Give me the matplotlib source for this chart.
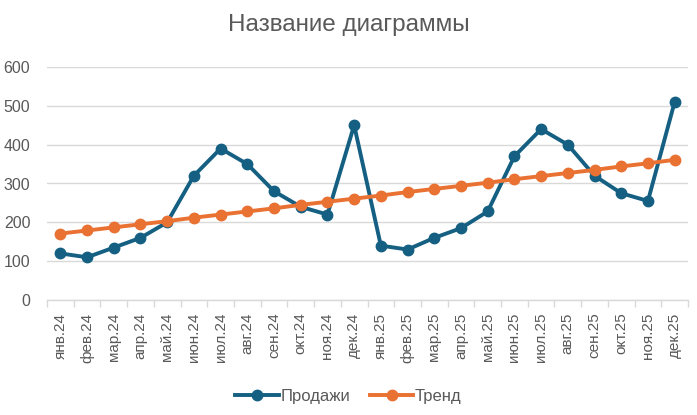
import numpy as np
import matplotlib.pyplot as plt

plt.rcParams['font.family'] = ['Liberation Sans', 'DejaVu Sans']

months = ['янв.24', 'фев.24', 'мар.24', 'апр.24', 'май.24', 'июн.24',
          'июл.24', 'авг.24', 'сен.24', 'окт.24', 'ноя.24', 'дек.24',
          'янв.25', 'фев.25', 'мар.25', 'апр.25', 'май.25', 'июн.25',
          'июл.25', 'авг.25', 'сен.25', 'окт.25', 'ноя.25', 'дек.25']
sales = [120, 110, 135, 160, 200, 320, 390, 350, 280, 240, 220, 450,
         140, 130, 160, 185, 228, 370, 440, 400, 320, 275, 255, 510]
trend = [171, 179, 187, 195, 203, 212, 220, 228, 236, 245, 253, 261,
         269, 278, 286, 294, 302, 311, 319, 327, 335, 344, 352, 361]

TEXT = '#595959'
GRID = '#D9D9D9'

fig = plt.figure(figsize=(6.97, 4.15), dpi=100)
ax = fig.add_axes([47 / 697, 1 - 300 / 415, (688 - 47) / 697, (300 - 67) / 415])

x = np.arange(len(months))
ax.plot(x, sales, color='#156082', lw=2.8, marker='o', ms=7.5, label='Продажи', zorder=3)
ax.plot(x, trend, color='#E97132', lw=2.8, marker='o', ms=7.5, label='Тренд', zorder=4)

ax.set_xlim(-0.5, len(months) - 0.5)
ax.set_ylim(0, 600)
ax.set_yticks(range(0, 601, 100))
ax.yaxis.grid(True, color=GRID, lw=1)
ax.set_axisbelow(True)
for s in ['top', 'right', 'left']:
    ax.spines[s].set_visible(False)
ax.spines['bottom'].set_color(GRID)
ax.spines['bottom'].set_linewidth(1)

ax.set_xticks(x)
ax.set_xticklabels(months, rotation=90)
ax.set_xticks(np.arange(-0.5, len(months)), minor=True)
ax.tick_params(axis='x', which='major', length=0, pad=9, labelsize=11, labelcolor=TEXT)
ax.tick_params(axis='x', which='minor', length=5, color=GRID, width=1)
ax.tick_params(axis='y', length=0, pad=12, labelsize=11.5, labelcolor=TEXT)

fig.text(0.5, 1 - 25 / 415, 'Название диаграммы', ha='center', va='center',
         fontsize=17.5, color=TEXT)

fig.legend(loc='center', bbox_to_anchor=(0.5, 1 - 396 / 415), ncol=2, frameon=False,
           fontsize=12, labelcolor=TEXT, handlelength=2.6, handletextpad=0.1,
           columnspacing=1.2)

fig.savefig('out.png', dpi=100)
